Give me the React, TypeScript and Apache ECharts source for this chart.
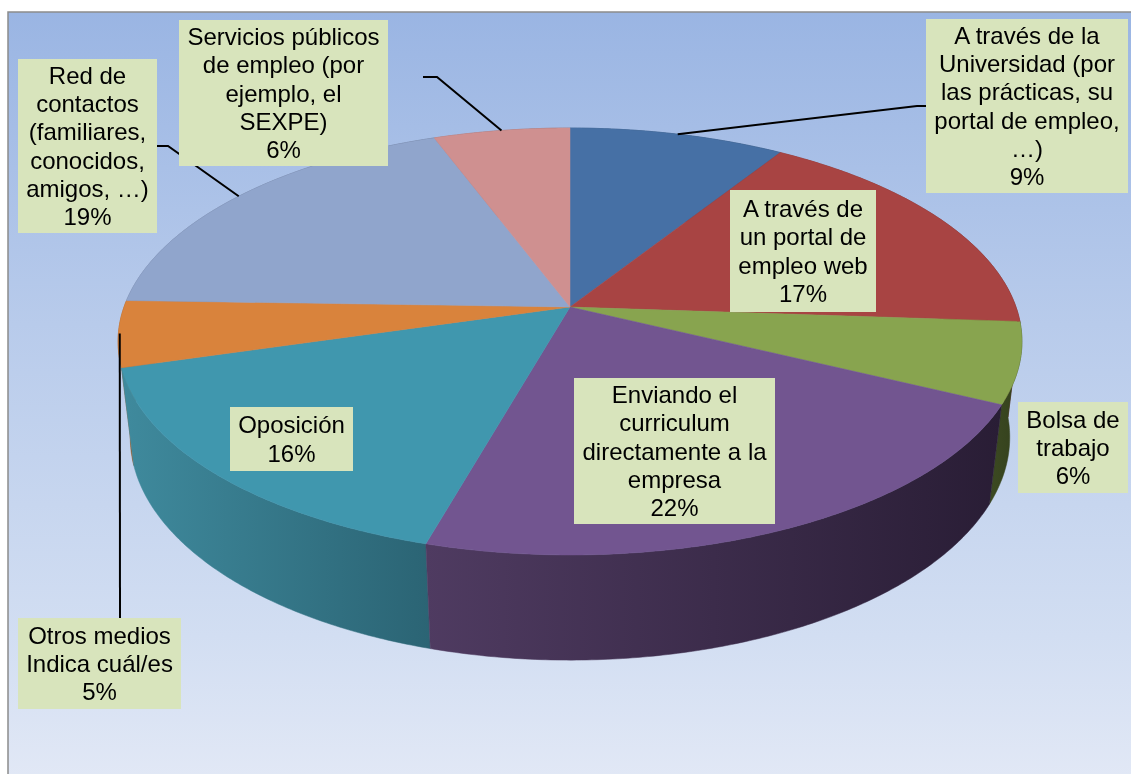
import React, { useEffect, useRef } from "react";
import * as echarts from "echarts";

// --- data ---
const categories = [
  "A través de la\nUniversidad (por\nlas prácticas, su\nportal de empleo,\n…)",
  "A través de\nun portal de\nempleo web",
  "Bolsa de\ntrabajo",
  "Enviando el\ncurriculum\ndirectamente a la\nempresa",
  "Oposición",
  "Otros medios\nIndica cuál/es",
  "Red de\ncontactos\n(familiares,\nconocidos,\namigos, …)",
  "Servicios públicos\nde empleo (por\nejemplo, el\nSEXPE)",
];
const shares = [9.0, 17.1, 6.1, 22.2, 16.1, 5.0, 18.8, 5.7];

// --- styles and layout ---
const topColors = ["#4670a5", "#a84443", "#88a44f", "#725590", "#4097ae", "#d9833c", "#90a5cc", "#cf9090"];
const wallStops = [
  ["#34557e", "#2b4668"],
  ["#7f3332", "#6a2a2a"],
  ["#3c4a22", "#333f1c"],
  ["#4f3b61", "#291d35"],
  ["#3f8a9d", "#2b6474"],
  ["#a0622d", "#8c5628"],
  ["#6c7c99", "#5c6a83"],
  ["#9b6c6c", "#855c5c"],
];
// label boxes: x0, y0, x1, y1
const labelBoxes = [
  [926, 19, 1128, 193],
  [730, 190, 876, 312],
  [1018, 402, 1128, 493],
  [574, 378, 775, 524],
  [230, 407, 353, 471],
  [18, 618, 181, 709],
  [18, 59, 157, 233],
  [179, 20, 388, 166],
];
// fixed part of each leader, from its label outward (the pie end comes from the projection)
const leaderElbows: Record<number, number[][]> = {
  0: [[926, 106], [917, 106]],
  5: [[120, 618]],
  6: [[157, 146], [168, 146]],
  7: [[423, 77], [437, 77]],
};
const leaderRadius: Record<number, number> = { 0: 1, 5: 0.997, 6: 1, 7: 1 };

// perspective projection of the pie: angle (clockwise from the top) and depth h (0 top, 1 bottom)
const CX = 570, CY = 307, A = 446, B = 207.9, K = 0.1616, M = 0.027, C = 97.7;
const project = (theta: number, h: number, r = 1): number[] => {
  const u = r * Math.sin(theta), v = r * Math.cos(theta);
  const w = 1 + K * v + M * h;
  return [CX + (A * u) / w, CY + (-B * v + C * h) / w];
};

const total = shares.reduce((a, b) => a + b, 0);
const sliceAngles = (i: number): number[] => {
  const before = shares.slice(0, i).reduce((a, b) => a + b, 0);
  return [(before / total) * Math.PI * 2, ((before + shares[i]) / total) * Math.PI * 2];
};
const rim = (a0: number, a1: number, h: number): number[][] => {
  const n = Math.max(4, Math.ceil((a1 - a0) / 0.01));
  const pts: number[][] = [];
  for (let k = 0; k <= n; k++) pts.push(project(a0 + ((a1 - a0) * k) / n, h));
  return pts;
};

export default function App() {
  const ref = useRef<HTMLDivElement>(null);
  useEffect(() => {
    const chart = echarts.init(ref.current!, null, { renderer: "svg" });

    const renderWall = (params: any) => {
      const i = params.dataIndex;
      const [a0, a1] = sliceAngles(i);
      const top = rim(a0, a1, 0);
      const bottom = rim(a0, a1, 1).reverse();
      const fill = {
        type: "linear", x: 0, y: 0, x2: 1, y2: 0,
        colorStops: [
          { offset: 0, color: wallStops[i][0] },
          { offset: 1, color: wallStops[i][1] },
        ],
      };
      return {
        type: "polygon",
        // nearer walls are painted over the ones that turn away from the viewer
        z2: Math.round(100 - 100 * Math.cos((a0 + a1) / 2)),
        shape: { points: top.concat(bottom) },
        style: { fill, stroke: fill, lineWidth: 0.5 },
      };
    };
    const renderTop = (params: any) => {
      const i = params.dataIndex;
      const [a0, a1] = sliceAngles(i);
      return {
        type: "polygon",
        shape: { points: [[CX, CY], ...rim(a0, a1, 0)] },
        style: { fill: topColors[i], stroke: topColors[i], lineWidth: 0.5 },
      };
    };

    const leaders = Object.keys(leaderElbows).map((key) => {
      const i = Number(key);
      const [a0, a1] = sliceAngles(i);
      return {
        type: "polyline",
        z: 10,
        silent: true,
        shape: { points: [...leaderElbows[i], project((a0 + a1) / 2, 0, leaderRadius[i])] },
        style: { stroke: "#000", lineWidth: 2, fill: "none" },
      };
    });
    const labels = categories.map((name, i) => {
      const [x0, y0, x1, y1] = labelBoxes[i];
      const text = `${name}\n${Math.round(shares[i])}%`;
      return {
        type: "group",
        z: 11,
        silent: true,
        children: [
          { type: "rect", z: 11, shape: { x: x0, y: y0, width: x1 - x0, height: y1 - y0 }, style: { fill: "#d8e4bc" } },
          {
            type: "text", z: 12, x: (x0 + x1) / 2, y: (y0 + y1) / 2,
            style: {
              text, fill: "#000", font: '24px "Liberation Sans"', lineHeight: 28.3,
              align: "center", verticalAlign: "middle",
            },
          },
        ],
      };
    });

    chart.setOption({
      animation: false,
      graphic: {
        elements: [
          {
            type: "rect", z: -1, silent: true,
            shape: { x: 8, y: 12, width: 1140, height: 780 },
            style: {
              stroke: "#8c8c8c", lineWidth: 1.5,
              fill: {
                type: "linear", x: 0, y: 0, x2: 0, y2: 1,
                colorStops: [
                  { offset: 0, color: "#9ab5e3" },
                  { offset: 0.4, color: "#b8cbeb" },
                  { offset: 0.8, color: "#d2def2" },
                  { offset: 1, color: "#e3e9f6" },
                ],
              },
            },
          },
          ...leaders,
          ...labels,
        ],
      },
      series: [
        { type: "custom", name: "wall", coordinateSystem: "none", z: 2, renderItem: renderWall, data: shares, silent: true },
        { type: "custom", name: "top", coordinateSystem: "none", z: 3, renderItem: renderTop, data: shares, silent: true },
      ],
    });
    return () => chart.dispose();
  }, []);
  return <div ref={ref} style={{ position: "fixed", left: 0, top: 0, width: 1131, height: 774 }} />;
}
